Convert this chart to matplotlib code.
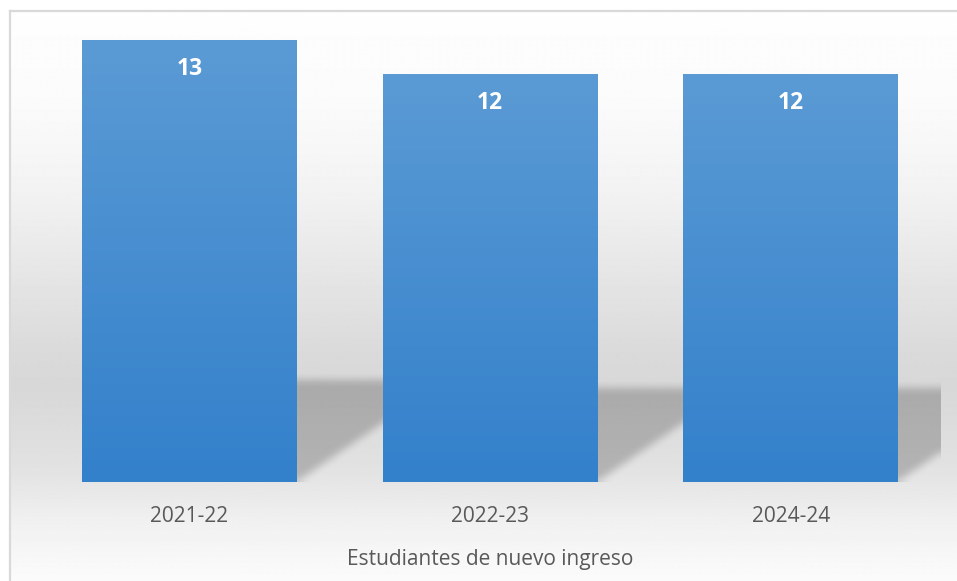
import numpy as np
import matplotlib
matplotlib.use("Agg")
import matplotlib.pyplot as plt
from matplotlib.path import Path
from matplotlib.colors import LinearSegmentedColormap

# data
categories = ["2021-22", "2022-23", "2024-24"]
values = [13, 12, 12]
axis_title = "Estudiantes de nuevo ingreso"

OUT = "out.png"
W, H = 957, 581
DPI = 100

BAR_WIDTH = 0.715
Y_TOP = 13.6
SHADOW_FRAC = 0.23   # shadow height relative to bar height
SHADOW_SKEW = 1.46   # px shift in x per px of shadow height
TEXT_GRAY = "#595959"

plt.rcParams["font.family"] = ["Open Sans", "DejaVu Sans"]


def px(x, y):
    """pixel (from top-left) -> figure fraction"""
    return x / W, 1 - y / H


def box_blur(a, r):
    # simple separable box blur, done twice for a softer edge
    for _ in range(2):
        for axis in (0, 1):
            pad = [(0, 0), (0, 0)]
            pad[axis] = (r + 1, r)
            c = np.cumsum(np.pad(a, pad, mode="edge"), axis=axis)
            if axis == 0:
                a = (c[2 * r + 1:, :] - c[:-2 * r - 1, :]) / (2 * r + 1)
            else:
                a = (c[:, 2 * r + 1:] - c[:, :-2 * r - 1]) / (2 * r + 1)
    return a


fig = plt.figure(figsize=(W / DPI, H / DPI), dpi=DPI)
fig.patch.set_facecolor("white")

# chart-area background with vertical gradient and light border
bx0, by0 = 10, 11
bg = fig.add_axes([bx0 / W, 0, (W + 5 - bx0) / W, (H - by0) / H], zorder=0)
stops = [0.0, 0.15, 0.3, 0.45, 0.6, 0.66, 0.8, 0.9, 1.0]
levels = [0.995, 0.985, 0.955, 0.905, 0.855, 0.845, 0.885, 0.945, 0.985]
yy = np.linspace(0, 1, 600)
grad = np.interp(yy, stops, levels)
bg.imshow(np.repeat(grad[:, None], 2, axis=1), cmap="gray", vmin=0, vmax=1,
          aspect="auto", extent=[0, 1, 0, 1], origin="upper",
          interpolation="bilinear")
bg.set_xlim(0, 1)
bg.set_ylim(0, 1)
bg.set_xticks([])
bg.set_yticks([])
for s in ("right", "bottom"):
    bg.spines[s].set_visible(False)
for s in ("left", "top"):
    bg.spines[s].set_color("#d9d9d9")
    bg.spines[s].set_linewidth(1.6)

# plot area
left, right, top, bottom = 39, 941, 20, 482
x0, y0 = px(left, bottom)
ax = fig.add_axes([x0, y0, (right - left) / W, (bottom - top) / H], zorder=1)
ax.set_facecolor("none")
ax.set_xlim(-0.5, len(categories) - 0.5)
ax.set_ylim(0, Y_TOP)

xs = np.arange(len(categories))

# perspective shadows behind the bars
nx, ny = right - left, bottom - top
gx = np.linspace(-0.5, len(categories) - 0.5, nx)
gy = np.linspace(Y_TOP, 0, ny)
GX, GY = np.meshgrid(gx, gy)
pts = np.column_stack([GX.ravel(), GY.ravel()])
px_per_x = nx / len(categories)
px_per_y = ny / Y_TOP
mask = np.zeros(GX.shape)
for x, v in zip(xs, values):
    sh = SHADOW_FRAC * v
    shift = sh * px_per_y * SHADOW_SKEW / px_per_x
    poly = Path([(x - BAR_WIDTH / 2, 0), (x + BAR_WIDTH / 2, 0),
                 (x + BAR_WIDTH / 2 + shift, sh),
                 (x - BAR_WIDTH / 2 + shift, sh)])
    mask = np.maximum(mask, poly.contains_points(pts).reshape(GX.shape))
mask = box_blur(mask, 4)
mask[-2:, :] = mask[-3, :]
shadow = np.zeros((ny, nx, 4))
shadow[..., 3] = mask * 0.21
ax.imshow(shadow, extent=[-0.5, len(categories) - 0.5, 0, Y_TOP],
          aspect="auto", zorder=1, interpolation="bilinear")

# bars with a top-to-bottom blue gradient
bar_cmap = LinearSegmentedColormap.from_list("bar", ["#3380cb", "#5b9bd5"])
bars = ax.bar(xs, values, width=BAR_WIDTH, color="#4a8fd2", zorder=2,
              linewidth=0)
for b in bars:
    g = np.linspace(0, 1, 256)[:, None]
    im = ax.imshow(g, cmap=bar_cmap, aspect="auto", origin="lower",
                   extent=[b.get_x(), b.get_x() + b.get_width(),
                           0, b.get_height()], zorder=3)
    im.set_clip_path(b)

for x, v in zip(xs, values):
    ax.annotate(str(v), (x, v), xytext=(0, -29 * 72 / DPI),
                textcoords="offset points", ha="center", va="center",
                color="white", fontsize=16.5, fontweight="bold", zorder=4)

ax.set_xlim(-0.5, len(categories) - 0.5)
ax.set_ylim(0, Y_TOP)
ax.set_yticks([])
ax.set_xticks(xs)
ax.set_xticklabels(categories, fontsize=15, color=TEXT_GRAY)
ax.tick_params(axis="x", length=0, pad=17)
for s in ("left", "right", "top", "bottom"):
    ax.spines[s].set_visible(False)

ax.set_xlabel(axis_title, fontsize=15, color=TEXT_GRAY)
ax.xaxis.set_label_coords(0.5, (bottom - 560) / ny)
ax.xaxis.label.set_va("center")

fig.savefig(OUT, dpi=DPI)
